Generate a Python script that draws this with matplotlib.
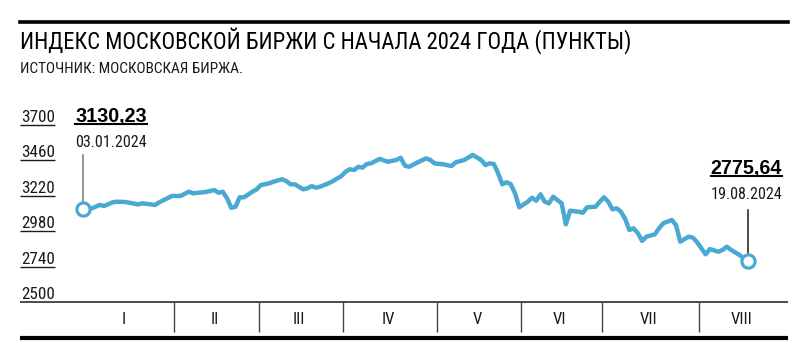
import matplotlib
matplotlib.use("Agg")
import matplotlib.pyplot as plt
from matplotlib.transforms import offset_copy, blended_transform_factory

# Торговые сессии с 03.01.2024 (0) по 19.08.2024 (157) и значения индекса
sessions = [0, 2, 4, 5, 7, 8, 10, 13, 14, 17, 18, 21, 23, 25, 26, 29, 31, 32, 33, 34,
            35, 36, 37, 38, 40, 41, 42, 44, 45, 47, 48, 49, 50, 52, 53, 54, 55, 56, 58,
            59, 61, 62, 63, 64, 65, 66, 67, 68, 70, 72, 74, 75, 76, 77, 79, 81, 82, 83,
            85, 87, 88, 90, 92, 94, 95, 96, 97, 98, 99, 100, 101, 102, 103, 105, 106,
            107, 108, 109, 110, 111, 113, 114, 115, 117, 118, 119, 121, 122, 123, 124,
            125, 126, 127, 128, 129, 130, 131, 132, 133, 135, 136, 137, 139, 140, 141,
            143, 144, 145, 147, 148, 150, 151, 152, 153, 155, 156, 157]
values = [3130.23, 3135, 3158, 3151, 3176, 3180, 3178, 3162, 3169, 3158, 3176, 3219, 3219,
          3248, 3237, 3246, 3259, 3241, 3248, 3203, 3139, 3146, 3210, 3210, 3248, 3264,
          3293, 3305, 3316, 3332, 3320, 3298, 3298, 3264, 3271, 3286, 3275, 3282, 3305,
          3320, 3354, 3383, 3400, 3395, 3417, 3411, 3436, 3440, 3470, 3451, 3463, 3478,
          3424, 3417, 3447, 3474, 3463, 3440, 3434, 3422, 3447, 3463, 3497, 3463, 3429,
          3440, 3436, 3373, 3298, 3312, 3298, 3237, 3142, 3180, 3207, 3187, 3230, 3180,
          3169, 3214, 3169, 3027, 3119, 3112, 3105, 3142, 3146, 3180, 3210, 3180, 3128,
          3135, 3112, 3063, 2988, 3000, 2966, 2914, 2943, 2959, 3000, 3034, 3056, 3022,
          2909, 2943, 2936, 2905, 2823, 2859, 2841, 2853, 2875, 2853, 2819, 2796, 2775.64]

yticks = [2500, 2740, 2980, 3220, 3460, 3700]
month_starts = [-2, 21, 41, 61, 83, 103, 122, 145, 166]  # первая сессия месяца
month_names = ["I", "II", "III", "IV", "V", "VI", "VII", "VIII"]

first_label = ("3130,23", "03.01.2024")
last_label = ("2775,64", "19.08.2024")

title = "ИНДЕКС МОСКОВСКОЙ БИРЖИ С НАЧАЛА 2024 ГОДА (ПУНКТЫ)"
source = "ИСТОЧНИК: МОСКОВСКАЯ БИРЖА."

NARROW = dict(family=["Roboto Condensed", "DejaVu Sans"], fontstretch="condensed")
BOLD = ["Liberation Sans", "DejaVu Sans"]
BLUE = "#4aa9d3"
DARK = "#1a1a1a"

W, H = 800, 354
fig = plt.figure(figsize=(W / 100, H / 100), dpi=100)


def fx(px):
    return px / W


def fy(py):
    return 1 - py / H


ax = fig.add_axes([fx(20), fy(302), fx(768), 187 / H])
ax.set_xlim(-14.87, 166.44)
ax.set_ylim(2500, 3768)
ax.axis("off")

# линия индекса
ax.plot(sessions, values, color=BLUE, lw=3.2, solid_joinstyle="round",
        solid_capstyle="round", zorder=3)

# точки начала и конца
for i in (0, -1):
    ax.plot(sessions[i], values[i], "o", ms=9.5, mfc="white", mec=BLUE,
            mew=2.3, zorder=5)

# выноски
ax.plot([sessions[0]] * 2, [values[0], 3497], color="#777777", lw=1.1, zorder=2)
ax.plot([sessions[-1]] * 2, [values[-1], 3124], color=DARK, lw=1.1, zorder=2)

# подписи по оси Y
ytrans = ax.get_yaxis_transform()
lab_trans = offset_copy(ytrans, fig=fig, x=1, y=3, units="dots")
for t in yticks:
    ax.text(0, t, str(t), transform=lab_trans, ha="left", va="baseline",
            fontsize=12.3, color=DARK, **NARROW)
    if t != yticks[0]:
        ax.hlines(t, 0, 35 / 768, transform=ytrans, color=DARK, lw=1)

ax.hlines(2500, 0, 1, transform=ytrans, color=DARK, lw=1.1, clip_on=False)

# месяцы
xtrans = blended_transform_factory(ax.transData, ax.transAxes)
for s in month_starts[1:-1]:
    ax.vlines(s + 0.5, -30 / 187, 0, transform=xtrans, color="#444444", lw=1,
              clip_on=False)
for i, m in enumerate(month_names):
    c = (month_starts[i] + month_starts[i + 1]) / 2
    ax.text(c, -18 / 187, m, transform=xtrans, ha="center", va="center",
            fontsize=12, color=DARK, **NARROW)
ax.hlines(-36 / 187, 0, 1, transform=ax.transAxes, color="black", lw=3,
          clip_on=False)

# значения на концах
def value_label(x, y, val, date, ha):
    t1 = fig.text(fx(x), fy(y), val, ha=ha, va="baseline", fontsize=14.2,
                  fontweight="bold", family=BOLD, color="black")
    fig.text(fx(x), fy(y + 25), date, ha=ha, va="baseline", fontsize=11.6,
             color=DARK, **NARROW)
    fig.canvas.draw()
    bb = t1.get_window_extent()
    fig.add_artist(plt.Line2D([bb.x0 / W, bb.x1 / W], [fy(y + 2.5)] * 2,
                              color="black", lw=1.5))


value_label(75, 122, first_label[0], first_label[1], "left")
value_label(782, 174, last_label[0], last_label[1], "right")

# заголовок
fig.add_artist(plt.Line2D([fx(20), fx(788)], [fy(21.5)] * 2, color="black", lw=2.6))
fig.text(fx(20), fy(49), title, ha="left", va="baseline", fontsize=16.4,
         color="black", **NARROW)
fig.text(fx(20), fy(73), source, ha="left", va="baseline", fontsize=11,
         color=DARK, **NARROW)

fig.savefig("out.png", dpi=100, facecolor="white")
